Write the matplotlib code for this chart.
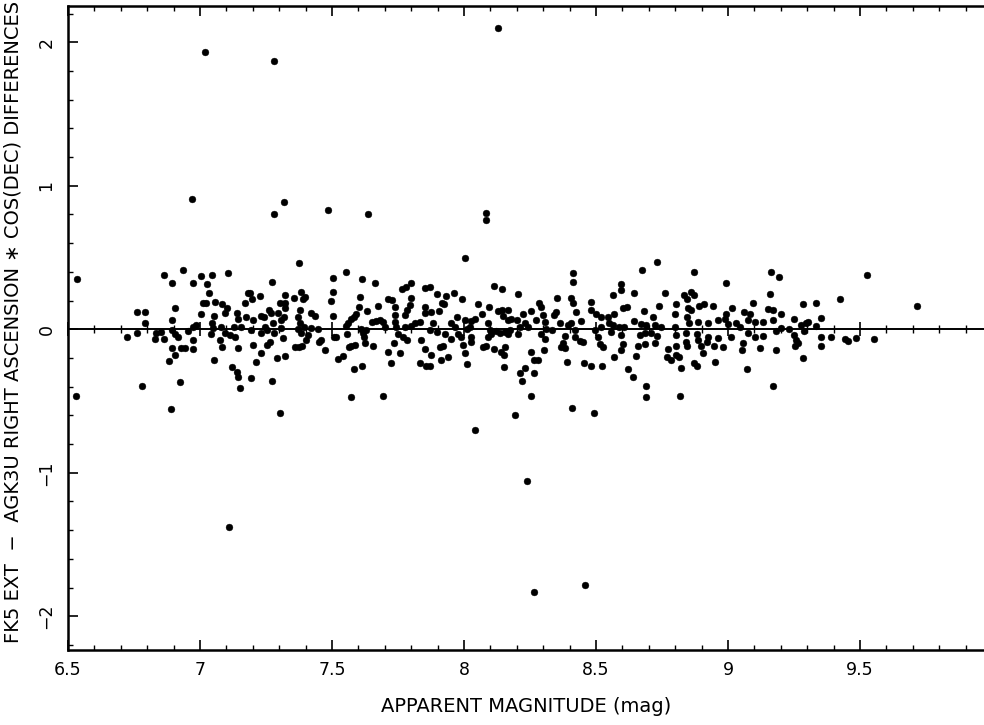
import numpy as np
import matplotlib
matplotlib.use("Agg")
import matplotlib.pyplot as plt
from matplotlib.ticker import MultipleLocator

# ---- data: (apparent magnitude, RA*cos(dec) difference) ----
mag_a = [6.534, 6.532, 6.722, 6.763, 6.793, 6.793, 6.763, 6.782, 6.835, 6.851, 6.831, 6.864,
         6.864, 6.894, 6.934, 6.904, 6.894, 6.894, 6.907, 6.917, 6.894, 6.904, 6.881, 6.891,
         6.923, 6.927, 6.944, 6.973, 6.973, 6.955, 6.973, 6.986, 6.975, 7.005, 7.025, 7.045,
         7.106, 7.035, 7.010, 7.023, 7.056, 7.083, 7.093, 7.104, 7.005, 7.053, 7.045, 7.043,
         7.051, 7.081, 7.074, 7.083, 7.093, 7.115, 7.128, 7.131, 7.141, 7.144, 7.154, 7.172,
         7.175, 7.182, 7.144, 7.053, 7.121, 7.141, 7.144, 7.152]
diff_a = [0.348, -0.462, -0.053, 0.123, 0.121, 0.042, -0.028, -0.393, -0.028, -0.016, -0.065, -0.065,
          0.376, 0.325, 0.416, 0.146, 0.065, -0.005, -0.033, -0.051, -0.132, -0.179, -0.221, -0.557,
          -0.365, -0.132, -0.128, -0.135, -0.074, -0.009, 0.014, 0.030, 0.323, 0.374, 0.318, 0.381,
          0.390, 0.251, 0.181, 0.181, 0.190, 0.177, 0.116, 0.149, 0.107, 0.093, 0.042, -0.033,
          0.007, 0.014, -0.074, -0.121, -0.028, -0.039, 0.019, -0.051, 0.111, 0.070, 0.014, 0.181,
          0.088, 0.256, -0.132, -0.214, -0.260, -0.295, -0.334, -0.406]

mag_b = [7.188, 7.197, 7.226, 7.201, 7.192, 7.201, 7.214, 7.192, 7.232, 7.232, 7.243, 7.232,
         7.245, 7.255, 7.260, 7.273, 7.270, 7.277, 7.280, 7.255, 7.264, 7.273, 7.296, 7.302,
         7.321, 7.323, 7.308, 7.308, 7.315, 7.318, 7.323, 7.293, 7.323, 7.302, 7.356, 7.374,
         7.384, 7.390, 7.397, 7.378, 7.371, 7.378, 7.371, 7.381, 7.394, 7.409, 7.403, 7.359,
         7.374, 7.386, 7.422, 7.435, 7.422, 7.447, 7.460, 7.450, 7.472, 7.504, 7.505, 7.495,
         7.505, 7.508, 7.517, 7.554, 7.554, 7.561, 7.573, 7.584, 7.592, 7.601, 7.605, 7.615,
         7.558, 7.563, 7.573, 7.586, 7.523, 7.542, 7.584, 7.614, 7.573, 7.611, 7.618, 7.621,
         7.630, 7.624, 7.634, 7.655, 7.664, 7.652, 7.668, 7.681, 7.693, 7.674, 7.693, 7.700,
         7.712, 7.727, 7.738, 7.738, 7.740, 7.744, 7.750, 7.712, 7.735, 7.725, 7.756, 7.765,
         7.782, 7.798, 7.801, 7.794, 7.785, 7.775, 7.769, 7.785, 7.775, 7.801, 7.813, 7.832,
         7.836, 7.854, 7.851, 7.851, 7.854, 7.832, 7.857]
diff_b = [0.251, 0.209, 0.232, 0.065, -0.005, -0.109, -0.230, -0.337, -0.167, 0.093, 0.084, -0.028,
          0.014, -0.005, 0.135, 0.328, 0.111, 0.042, -0.028, -0.109, -0.086, -0.358, 0.111, 0.181,
          0.181, 0.239, 0.065, 0.007, -0.063, 0.088, 0.146, -0.202, -0.186, -0.585, 0.221, 0.465,
          0.262, 0.209, 0.228, 0.135, 0.088, 0.042, 0.000, -0.028, 0.019, -0.039, -0.074, -0.125,
          -0.121, -0.116, 0.116, 0.093, 0.007, 0.000, -0.074, -0.086, -0.144, 0.360, 0.262, 0.200,
          0.093, -0.051, -0.056, 0.397, 0.023, 0.042, 0.070, 0.088, 0.107, 0.158, 0.223, 0.348,
          -0.035, -0.121, -0.116, -0.109, -0.209, -0.186, -0.274, -0.256, -0.474, 0.000, -0.028, -0.051,
          -0.005, -0.098, 0.130, -0.116, 0.325, 0.053, 0.058, 0.065, 0.053, 0.163, -0.462, 0.014,
          0.209, 0.204, 0.158, 0.100, 0.053, 0.019, -0.033, -0.156, -0.093, -0.237, -0.163, 0.279,
          0.297, 0.321, 0.216, 0.170, 0.135, 0.100, -0.051, -0.074, 0.014, 0.023, 0.042, 0.053,
          -0.074, 0.286, 0.158, 0.111, -0.139, -0.232, -0.256]

mag_c = [8.005, 7.870, 7.896, 7.933, 7.962, 7.994, 7.915, 7.925, 7.877, 7.904, 7.883, 7.870,
         7.896, 7.927, 7.952, 7.975, 7.965, 7.978, 7.952, 7.990, 8.005, 8.013, 8.022, 8.026,
         8.028, 8.043, 8.053, 8.069, 8.094, 8.091, 8.098, 8.104, 8.091, 8.114, 8.144, 8.123,
         8.135, 8.129, 8.144, 8.148, 8.165, 8.167, 8.177, 8.157, 8.165, 8.173, 8.205, 8.202,
         8.211, 8.205, 8.224, 8.230, 8.243, 8.255, 8.274, 8.283, 8.291, 8.300, 8.306, 8.293,
         8.306, 8.312, 8.334, 8.354, 8.350, 8.341, 8.363, 8.394, 8.407, 8.413, 8.413, 8.413,
         8.426, 8.442, 8.407, 8.420, 8.384, 8.375, 8.369, 8.382, 8.420, 8.439, 8.451, 8.480,
         8.483, 8.502, 8.521, 8.495, 8.508, 8.521, 8.514, 8.527, 8.392, 8.455, 8.480, 8.523,
         8.409, 8.492, 8.192, 8.253, 8.220, 8.212, 8.233, 8.266, 8.266, 8.281, 8.253, 8.303,
         8.152, 8.152, 8.142, 8.157, 8.114, 8.072, 8.085, 8.003, 8.013, 8.026, 7.997, 7.940,
         7.912, 7.908, 7.921, 7.877, 7.870]
diff_c = [0.495, 0.293, 0.246, 0.235, 0.251, 0.211, 0.186, 0.177, 0.123, 0.130, 0.046, -0.005,
          -0.016, -0.033, 0.042, 0.084, 0.014, -0.033, -0.070, -0.051, 0.065, 0.000, 0.014, -0.051,
          0.060, 0.074, 0.177, 0.107, 0.158, 0.046, -0.005, -0.033, -0.056, 0.302, 0.279, -0.009,
          -0.028, 0.130, 0.135, 0.093, 0.065, 0.135, 0.070, -0.016, -0.033, -0.005, 0.244, 0.065,
          0.019, -0.033, 0.107, 0.042, 0.014, 0.130, 0.065, 0.181, 0.158, 0.100, 0.053, -0.033,
          -0.070, 0.000, -0.005, 0.216, 0.123, 0.100, 0.046, 0.030, 0.216, 0.395, 0.332, 0.181,
          0.123, 0.060, 0.042, -0.005, -0.046, -0.098, -0.125, -0.132, -0.051, -0.079, -0.086, 0.193,
          0.135, 0.107, 0.088, -0.005, -0.051, 0.014, -0.102, -0.125, -0.225, -0.237, -0.256, -0.256,
          -0.551, -0.585, -0.597, -0.462, -0.360, -0.307, -0.272, -0.302, -0.214, -0.214, -0.156, -0.144,
          -0.265, -0.179, -0.156, -0.121, -0.139, -0.125, -0.116, -0.163, -0.244, -0.086, -0.109, -0.195,
          -0.214, -0.125, -0.116, -0.179, -0.256]

mag_d = [8.732, 8.674, 8.873, 9.164, 9.195, 8.993, 8.593, 8.593, 8.564, 8.643, 8.762, 8.835,
         8.861, 8.871, 8.846, 9.161, 9.094, 8.602, 8.618, 8.681, 8.737, 8.804, 8.798, 8.848,
         8.861, 8.892, 8.911, 8.943, 9.015, 9.060, 9.082, 9.151, 9.170, 9.202, 8.570, 8.545,
         8.715, 8.846, 8.993, 8.987, 8.962, 8.551, 8.564, 8.589, 8.606, 8.643, 8.671, 8.690,
         8.724, 8.747, 8.798, 8.854, 8.886, 8.924, 8.999, 9.031, 9.047, 9.075, 9.101, 9.132,
         9.170, 9.202, 8.558, 8.596, 8.665, 8.684, 8.707, 8.732, 8.804, 8.842, 8.883, 8.924,
         8.962, 9.012, 9.075, 9.101, 9.132, 9.183, 8.602, 8.661, 8.684, 8.722, 8.804, 8.842,
         8.846, 8.886, 8.899, 8.921, 8.949, 8.981, 9.056, 9.053, 9.120, 9.183, 8.593, 8.570,
         8.652, 8.772, 8.770, 8.785, 8.804, 8.816, 8.823, 8.873, 8.883, 8.905, 8.952, 9.073,
         8.621, 8.640, 8.690, 8.690, 8.820, 9.170]
diff_d = [0.472, 0.413, 0.397, 0.402, 0.367, 0.321, 0.316, 0.274, 0.239, 0.251, 0.251, 0.239,
          0.262, 0.239, 0.209, 0.246, 0.181, 0.146, 0.153, 0.130, 0.163, 0.174, 0.107, 0.146,
          0.135, 0.163, 0.177, 0.163, 0.146, 0.123, 0.107, 0.139, 0.135, 0.107, 0.107, 0.088,
          0.088, 0.088, 0.107, 0.070, 0.065, 0.042, 0.030, 0.019, 0.014, 0.060, 0.037, 0.030,
          0.030, 0.014, 0.014, 0.042, 0.053, 0.042, 0.037, 0.042, 0.019, 0.065, 0.053, 0.053,
          0.065, 0.007, -0.016, -0.039, -0.039, -0.028, -0.028, -0.046, -0.039, -0.028, -0.033, -0.051,
          -0.063, -0.051, -0.028, -0.056, -0.046, -0.009, -0.102, -0.116, -0.102, -0.098, -0.116, -0.086,
          -0.116, -0.074, -0.116, -0.086, -0.116, -0.125, -0.093, -0.144, -0.132, -0.144, -0.144, -0.195,
          -0.186, -0.139, -0.190, -0.214, -0.179, -0.190, -0.272, -0.237, -0.256, -0.167, -0.225, -0.279,
          -0.274, -0.334, -0.395, -0.469, -0.462, -0.395]

mag_e = [9.526, 9.717, 9.423, 9.334, 9.284, 9.252, 9.353, 9.334, 9.278, 9.296, 9.305, 9.233,
         9.290, 9.252, 9.259, 9.255, 9.265, 9.353, 9.353, 9.391, 9.442, 9.454, 9.486, 9.555,
         9.284]
diff_e = [0.379, 0.163, 0.209, 0.186, 0.174, 0.072, 0.081, 0.023, 0.030, 0.042, 0.053, 0.000,
          -0.009, -0.039, -0.074, -0.116, -0.098, -0.051, -0.116, -0.056, -0.070, -0.079, -0.060, -0.070,
          -0.197]

# large outliers
mag_out = [7.02, 7.28, 8.13, 6.97, 7.28, 7.32, 7.485, 7.635, 8.083, 8.083,
           8.04, 7.11, 8.24, 8.265, 8.46]
diff_out = [1.93, 1.87, 2.10, 0.91, 0.80, 0.885, 0.83, 0.80, 0.81, 0.76,
            -0.70, -1.38, -1.06, -1.83, -1.78]

x_label = "APPARENT MAGNITUDE (mag)"
y_label = "FK5 EXT  \u2212  AGK3U RIGHT ASCENSION \u2217 COS(DEC) DIFFERENCES"
x_ticks = [6.5, 7, 7.5, 8, 8.5, 9, 9.5]
x_tick_labels = ["6.5", "7", "7.5", "8", "8.5", "9", "9.5"]
y_ticks = [-2, -1, 0, 1, 2]
y_tick_labels = ["\u22122", "\u22121", "0", "1", "2"]

mag = np.concatenate([mag_a, mag_b, mag_c, mag_d, mag_e, mag_out])
diff = np.concatenate([diff_a, diff_b, diff_c, diff_d, diff_e, diff_out])

# ---- figure ----
plt.rcParams['font.family'] = ['DejaVu Sans']
fig = plt.figure(figsize=(9.84, 7.25), dpi=100)
ax = fig.add_axes([68 / 984, 1 - 650 / 725, 1 - 68 / 984, (650 - 6) / 725])

XMIN, XMAX = 6.5, 9.97
YMIN, YMAX = -2.235, 2.253
ax.set_xlim(XMIN, XMAX)
ax.set_ylim(YMIN, YMAX)

ax.plot(mag, diff, linestyle='none', marker='o', markersize=4.9,
        markerfacecolor='black', markeredgecolor='black', markeredgewidth=0.3, zorder=3)

ax.axhline(0, color='black', linewidth=1.4, zorder=2)

for side in ['left', 'bottom', 'top']:
    ax.spines[side].set_linewidth(1.8)
ax.spines['right'].set_visible(False)

ax.set_xticks(x_ticks)
ax.set_xticklabels(x_tick_labels)
ax.set_yticks(y_ticks)
ax.set_yticklabels(y_tick_labels, rotation=90, va='center')
ax.xaxis.set_minor_locator(MultipleLocator(0.1))
ax.yaxis.set_minor_locator(MultipleLocator(0.2))
ax.tick_params(axis='x', which='major', direction='in', length=7, width=1.2,
               top=True, bottom=True, labelsize=12.5, pad=8)
ax.tick_params(axis='x', which='minor', direction='in', length=3.5, width=1.0,
               top=True, bottom=True)
ax.tick_params(axis='y', which='major', direction='in', length=7, width=1.2,
               left=True, right=False, labelsize=12.5, pad=9)
ax.tick_params(axis='y', which='minor', direction='in', length=3.5, width=1.0,
               left=True, right=False)

# ticks along the zero line
zero_loc = (0 - YMIN) / (YMAX - YMIN)
sec = ax.secondary_xaxis(zero_loc)
sec.set_xticks(x_ticks)
sec.xaxis.set_minor_locator(MultipleLocator(0.1))
sec.tick_params(axis='x', which='major', direction='inout', length=10, width=1.2, labelbottom=False)
sec.tick_params(axis='x', which='minor', direction='inout', length=6, width=1.0, labelbottom=False)
sec.set_xticklabels([])
sec.spines['bottom'].set_visible(False)

fig.text(526 / 984, 1 - 706 / 725, x_label, fontsize=14,
         ha='center', va='center')
fig.text(13 / 984, 1 - 322 / 725, y_label, rotation=90, fontsize=14,
         ha='center', va='center')

fig.savefig("out.png", dpi=100, facecolor='white')
